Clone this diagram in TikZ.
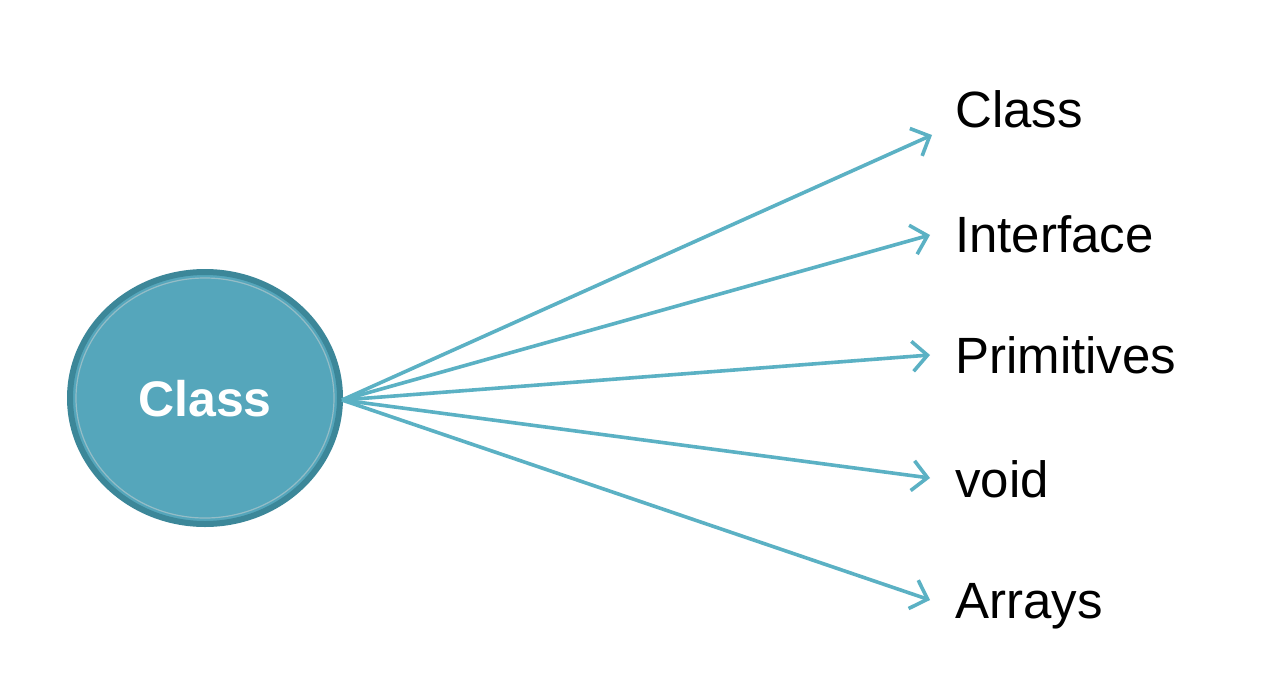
\documentclass[tikz,border=0pt]{standalone}
\usepackage{fontspec}
\setmainfont{Liberation Sans}
\usetikzlibrary{arrows.meta,shapes.geometric}
\definecolor{circfill}{HTML}{55A6BB}
\definecolor{circedge}{HTML}{3C8799}
\definecolor{arrowc}{HTML}{5BB1C4}
\begin{document}
\begin{tikzpicture}[x=1pt,y=-1pt,
  label/.style={anchor=base west,inner sep=0pt,font=\fontsize{51}{60}\selectfont,text=black},
  conn/.style={draw=arrowc,line width=3.6pt,-{Straight Barb[length=15pt,width=30pt,line width=3.6pt]}}]
\useasboundingbox[fill=white] (0,0) rectangle (1268,696);
\node[ellipse,fill=circfill,draw=circedge,line width=6pt,inner sep=0pt,minimum width=270pt,minimum height=252pt] (c) at (205,398) {};
\draw[white!45!circedge,line width=1.2pt] (205,398) ellipse [x radius=129,y radius=120];
\node[anchor=base,inner sep=0pt,font=\bfseries\fontsize{50}{60}\selectfont,text=white] (ct) at (205,416) {Class};
\node[label] (t1) at (955,127) {Class};
\node[label] (t2) at (955,252) {Interface};
\node[label] (t3) at (955,373) {Primitives};
\node[label] (t4) at (955,497) {void};
\node[label] (t5) at (955,618) {Arrays};
\coordinate (s) at (342,400);
\coordinate (e1) at (932,135);
\coordinate (e2) at (930,235);
\coordinate (e3) at (930,355);
\coordinate (e4) at (930,478);
\coordinate (e5) at (930,600);
\foreach \i in {1,...,5} \draw[conn] (s) -- (e\i);
\end{tikzpicture}
\end{document}
